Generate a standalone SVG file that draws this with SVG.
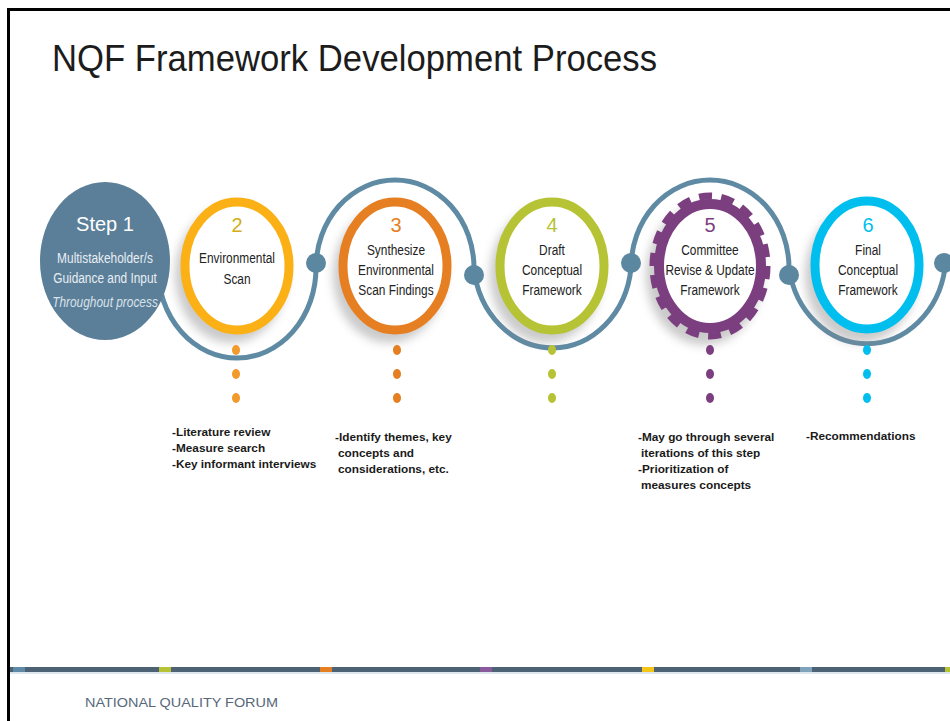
<svg xmlns="http://www.w3.org/2000/svg" width="950" height="721" viewBox="0 0 950 721">
<defs>
<filter id="sh" x="-50%" y="-50%" width="200%" height="200%"><feGaussianBlur stdDeviation="5"/></filter>
<style>
.t{font-family:"Liberation Sans",Arial,sans-serif}
.c{font-family:"Liberation Sans",Arial,sans-serif;font-size:14.5px;fill:#222;text-anchor:middle}
.n{font-family:"Liberation Sans",Arial,sans-serif;font-size:20px;text-anchor:middle}
.d{font-family:"Liberation Sans",Arial,sans-serif;font-size:11.8px;font-weight:bold;fill:#1a1a1a}
.ring{fill:#fff;stroke-width:9}
.shadow{fill:#8a8a8a;opacity:.45;filter:url(#sh)}
.dot{fill:#5b87a0}
</style>
</defs>
<rect width="950" height="721" fill="#fff"/>
<path d="M7 9.5H950M8.5 8V721" stroke="#000" stroke-width="3" fill="none"/>
<text class="t" x="52" y="71" font-size="36" fill="#1c1c1c" textLength="605" lengthAdjust="spacingAndGlyphs">NQF Framework Development Process</text>

<g id="connectors">
<path d="M158 268 A79 90 0 0 0 316 268 A79 88 0 0 1 474 268 A79 90 0 0 0 631 268 A79 88 0 0 1 789 268 A79 90 0 0 0 945 268" fill="none" stroke="#5f8aa3" stroke-width="5"/>
<circle class="dot" cx="316" cy="263" r="10"/>
<circle class="dot" cx="474" cy="275" r="10"/>
<circle class="dot" cx="631" cy="263" r="10"/>
<circle class="dot" cx="789" cy="275" r="10"/>
<circle class="dot" cx="944" cy="263" r="10"/>
</g>

<g id="step1">
<ellipse cx="105" cy="261" rx="65" ry="79" fill="#5b7f99"/>
<text class="t" x="105" y="231" font-size="20" fill="#fff" text-anchor="middle">Step 1</text>
<text class="t" transform="translate(105 263) scale(.82 1)" font-size="14.5" fill="#e8eef3" text-anchor="middle">Multistakeholder/s</text>
<text class="t" transform="translate(105 283) scale(.82 1)" font-size="14.5" fill="#e8eef3" text-anchor="middle">Guidance and Input</text>
<text class="t" transform="translate(105 307) scale(.82 1)" font-size="14.5" font-style="italic" fill="#d9e2e9" text-anchor="middle">Throughout process</text>
</g>

<g id="step2">
<ellipse class="shadow" cx="231" cy="275" rx="56" ry="68"/>
<ellipse class="ring" cx="237" cy="266" rx="52" ry="64" stroke="#fbb116"/>
<text class="n" x="237" y="232" fill="#d4ae17">2</text>
<text class="c" transform="translate(237 263) scale(.82 1)">Environmental</text>
<text class="c" transform="translate(237 284) scale(.82 1)">Scan</text>
<g fill="#f39a2c"><ellipse cx="236" cy="350" rx="4" ry="5"/><ellipse cx="236" cy="374" rx="4" ry="5"/><ellipse cx="236" cy="398" rx="4" ry="5"/></g>
<text class="d" x="172" y="436">-Literature review</text>
<text class="d" x="172" y="452">-Measure search</text>
<text class="d" x="172" y="468">-Key informant interviews</text>
</g>

<g id="step3">
<ellipse class="shadow" cx="389" cy="275" rx="56" ry="68"/>
<ellipse class="ring" cx="395" cy="266" rx="52" ry="64" stroke="#e67e22"/>
<text class="n" x="396" y="232" fill="#e67e22">3</text>
<text class="c" transform="translate(396 255) scale(.82 1)">Synthesize</text>
<text class="c" transform="translate(396 275) scale(.82 1)">Environmental</text>
<text class="c" transform="translate(396 295) scale(.82 1)">Scan Findings</text>
<g fill="#e67e22"><ellipse cx="397" cy="350" rx="4" ry="5"/><ellipse cx="397" cy="374" rx="4" ry="5"/><ellipse cx="397" cy="398" rx="4" ry="5"/></g>
<text class="d" x="335" y="441">-Identify themes, key</text>
<text class="d" x="338" y="457">concepts and</text>
<text class="d" x="338" y="473">considerations, etc.</text>
</g>

<g id="step4">
<ellipse class="shadow" cx="546" cy="275" rx="56" ry="68"/>
<ellipse class="ring" cx="552" cy="266" rx="52" ry="64" stroke="#b5c334"/>
<text class="n" x="552" y="232" fill="#b5c334">4</text>
<text class="c" transform="translate(552 255) scale(.82 1)">Draft</text>
<text class="c" transform="translate(552 275) scale(.82 1)">Conceptual</text>
<text class="c" transform="translate(552 295) scale(.82 1)">Framework</text>
<g fill="#b5c334"><ellipse cx="552" cy="350" rx="4" ry="5"/><ellipse cx="552" cy="374" rx="4" ry="5"/><ellipse cx="552" cy="398" rx="4" ry="5"/></g>
</g>

<g id="step5">
<ellipse class="shadow" cx="704" cy="275" rx="58" ry="70"/>
<ellipse cx="710" cy="266" rx="51" ry="62" fill="#fff" stroke="#7b3f80" stroke-width="10"/>
<ellipse cx="710" cy="266" rx="57" ry="70" fill="none" stroke="#7b3f80" stroke-width="7" stroke-dasharray="13 9.2"/>
<text class="n" x="710" y="232" fill="#7b3f80">5</text>
<text class="c" transform="translate(710 255) scale(.82 1)">Committee</text>
<text class="c" transform="translate(710 275) scale(.82 1)">Revise &amp; Update</text>
<text class="c" transform="translate(710 295) scale(.82 1)">Framework</text>
<g fill="#7b3f80"><ellipse cx="710" cy="350" rx="4" ry="5"/><ellipse cx="710" cy="374" rx="4" ry="5"/><ellipse cx="710" cy="398" rx="4" ry="5"/></g>
<text class="d" x="638" y="441">-May go through several</text>
<text class="d" x="641" y="457">iterations of this step</text>
<text class="d" x="638" y="473">-Prioritization of</text>
<text class="d" x="641" y="489">measures concepts</text>
</g>

<g id="step6">
<ellipse class="shadow" cx="861" cy="275" rx="56" ry="68"/>
<ellipse class="ring" cx="867" cy="265" rx="52" ry="64" stroke="#00bfef"/>
<text class="n" x="868" y="232" fill="#00bfef">6</text>
<text class="c" transform="translate(868 255) scale(.82 1)">Final</text>
<text class="c" transform="translate(868 275) scale(.82 1)">Conceptual</text>
<text class="c" transform="translate(868 295) scale(.82 1)">Framework</text>
<g fill="#00bfef"><ellipse cx="867" cy="350" rx="4" ry="5"/><ellipse cx="867" cy="374" rx="4" ry="5"/><ellipse cx="867" cy="398" rx="4" ry="5"/></g>
<text class="d" x="806" y="440">-Recommendations</text>
</g>

<g id="footer">
<rect x="10" y="667" width="940" height="5" fill="#4d6375"/>
<rect x="10" y="672" width="940" height="2" fill="#dfe6ec"/>
<rect x="13" y="667" width="12" height="5" fill="#5f8aa5"/>
<rect x="159" y="667" width="12" height="5" fill="#b5c334"/>
<rect x="320" y="667" width="12" height="5" fill="#e67e22"/>
<rect x="480" y="667" width="12" height="5" fill="#8a5a9c"/>
<rect x="642" y="667" width="12" height="5" fill="#f5c518"/>
<rect x="800" y="667" width="12" height="5" fill="#7fa3bb"/>
<rect x="945" y="667" width="5" height="5" fill="#b5c334"/>
<text class="t" x="85" y="707" font-size="13" fill="#56687a" textLength="193" lengthAdjust="spacingAndGlyphs">NATIONAL QUALITY FORUM</text>
</g>
</svg>
